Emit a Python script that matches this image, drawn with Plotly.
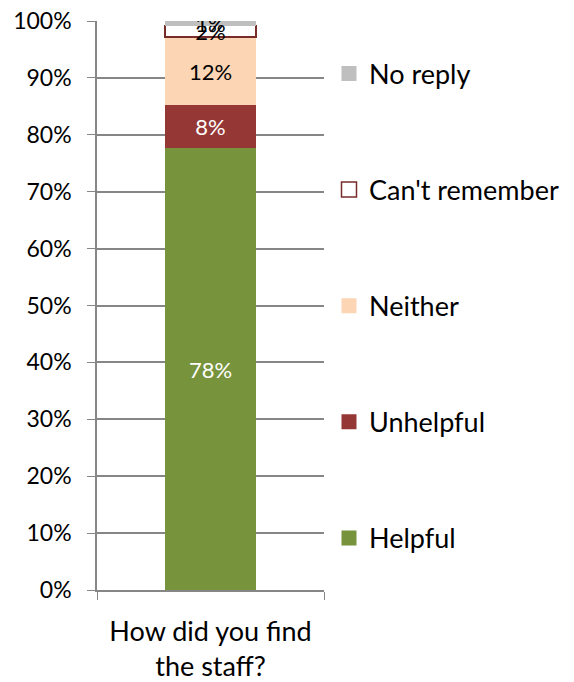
import plotly.graph_objects as go

# Survey question and response shares (%)
question = ["How did you find<br>the staff?"]
categories = ["Helpful", "Unhelpful", "Neither", "Can't remember", "No reply"]
shares = [77.6, 7.6, 12.0, 2.0, 0.8]
labels = ["78%", "8%", "12%", "2%", "1%"]

fills = ["#77933C", "#953735", "#FCD5B5", "#FFFFFF", "#BFBFBF"]
edges = ["#77933C", "#953735", "#FCD5B5", "#772C2A", "#BFBFBF"]
text_colors = ["white", "white", "black", "black", "black"]

FONT = "Lato, Calibri, sans-serif"
GRID = "#868686"

fig = go.Figure()
n = len(categories)
for i, (name, val, lab, fc, ec, tc) in enumerate(zip(categories, shares, labels, fills, edges, text_colors)):
    outlined = name == "Can't remember"
    fig.add_trace(go.Bar(
        x=question, y=[val], name=name, legendgroup=name, showlegend=False,
        marker=dict(color=fc, line=dict(color=ec, width=1.5 if outlined else 0)),
        text=[lab], textposition="inside", insidetextanchor="middle",
        textfont=dict(color=tc, size=22, family=FONT),
        width=0.4,
    ))
    # larger square swatch for the legend entry
    fig.add_trace(go.Scatter(
        x=[None], y=[None], mode="markers", name=name, legendgroup=name,
        legendrank=n - i,  # top segment listed first
        marker=dict(symbol="square", size=15, color=fc,
                    line=dict(color=ec, width=1.5 if outlined else 0)),
        hoverinfo="skip",
    ))

fig.update_layout(
    barmode="stack",
    width=574, height=682,
    margin=dict(l=97, r=250, t=21, b=92, autoexpand=False),
    paper_bgcolor="white", plot_bgcolor="white",
    font=dict(family=FONT, size=22, color="black"),
    uniformtext=dict(minsize=22, mode="show"),
    legend=dict(
        traceorder="grouped", tracegroupgap=78,
        x=1.022, xanchor="left", y=0.95, yanchor="top",
        font=dict(size=27, family=FONT),
        itemwidth=30,
    ),
    bargap=0.6,
    showlegend=True,
)
fig.update_yaxes(
    range=[0, 100], dtick=10, ticksuffix="%",
    showgrid=True, gridcolor=GRID, gridwidth=1.5,
    showline=True, linecolor=GRID, linewidth=1.5,
    ticks="outside", ticklen=8, tickcolor=GRID,
    ticklabelstandoff=11, automargin=False,
    tickfont=dict(size=23), zeroline=False,
)
fig.update_xaxes(
    showline=True, linecolor=GRID, linewidth=1.5,
    ticks="outside", ticklen=8, tickcolor=GRID, tickson="boundaries",
    ticklabelstandoff=17, automargin=False,
    tickfont=dict(size=27),
)

fig.write_html("out.html")
